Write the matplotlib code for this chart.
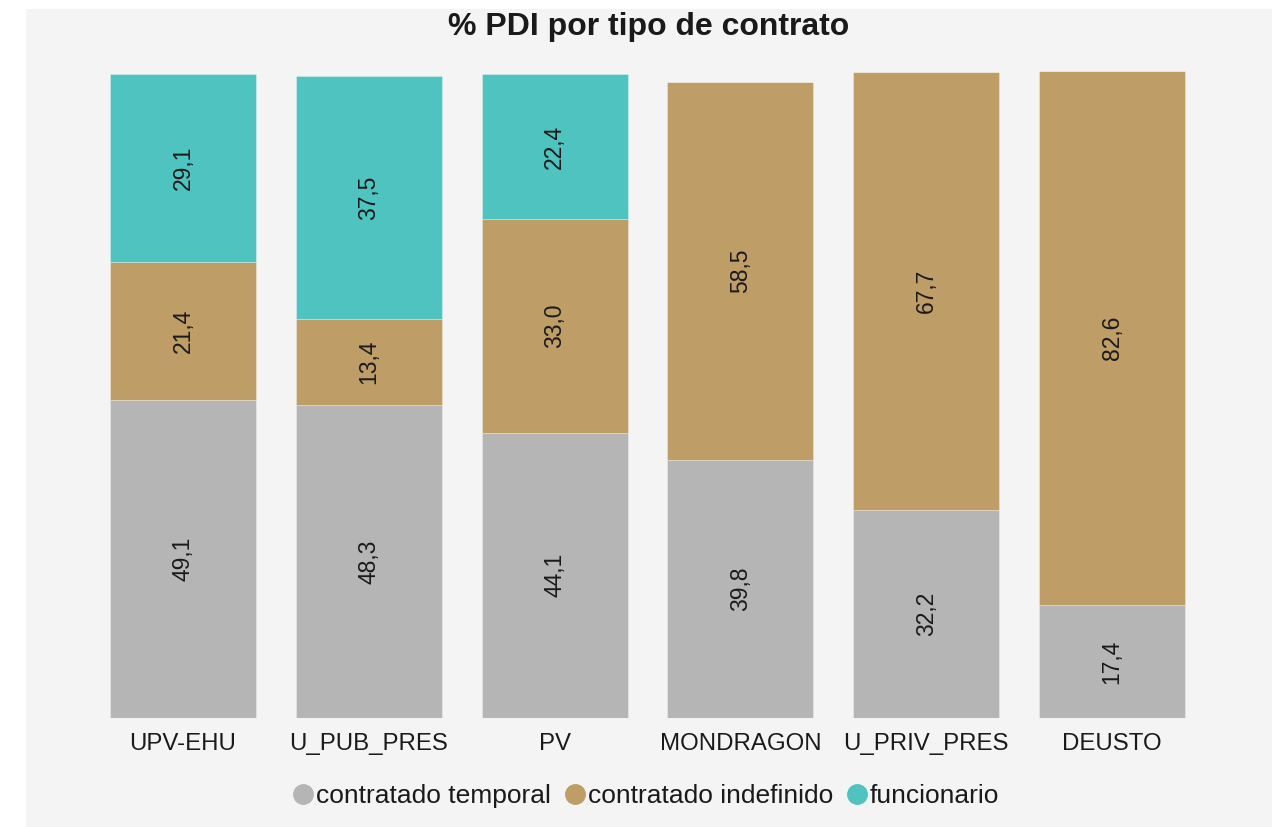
import numpy as np
import matplotlib.pyplot as plt
from matplotlib.lines import Line2D
from matplotlib.patches import Rectangle

plt.rcParams["font.family"] = ["Liberation Sans", "DejaVu Sans"]

# data
universidades = ["UPV-EHU", "U_PUB_PRES", "PV", "MONDRAGON", "U_PRIV_PRES", "DEUSTO"]
temporal = [49.1, 48.3, 44.1, 39.8, 32.2, 17.4]
indefinido = [21.4, 13.4, 33.0, 58.5, 67.7, 82.6]
funcionario = [29.1, 37.5, 22.4, 0.0, 0.0, 0.0]

series_names = ["contratado temporal", "contratado indefinido", "funcionario"]
colors = ["#b5b5b5", "#be9d66", "#4fc3bf"]

fig = plt.figure(figsize=(12.72, 8.27), dpi=100)
fig.patch.set_facecolor("white")
# light grey panel behind the chart
fig.add_artist(Rectangle((26 / 1272, 0), 1, 1 - 9 / 827, transform=fig.transFigure,
                         facecolor="#f4f4f4", edgecolor="none", zorder=-10))

ax = fig.add_axes([90 / 1272, 1 - 718 / 827, (1205 - 90) / 1272, (718 - 71) / 827])
ax.set_facecolor("none")

x = np.arange(len(universidades))
bottom = np.zeros(len(universidades))
for vals, col in zip([temporal, indefinido, funcionario], colors):
    vals = np.array(vals)
    ax.bar(x, vals, width=0.785, bottom=bottom, color=col,
           edgecolor=(1, 1, 1, 0.35), linewidth=0.6)
    for xi, b, v in zip(x, bottom, vals):
        if v > 0:
            ax.text(xi, b + v / 2, f"{v:.1f}".replace(".", ","), rotation=90,
                    ha="center", va="center", fontsize=16.5, color="#1a1a1a")
    bottom += vals

ax.set_xlim(-0.5, 5.5)
ax.set_ylim(0, 100)
ax.set_yticks([])
ax.set_xticks(x)
ax.set_xticklabels(universidades, fontsize=17.3, color="#1a1a1a")
ax.tick_params(axis="x", length=0, pad=11)
for s in ax.spines.values():
    s.set_visible(False)

fig.text(649 / 1272, 1 - 27 / 827, "% PDI por tipo de contrato", ha="center",
         va="center", fontsize=23, fontweight="bold", color="#1a1a1a")

handles = [Line2D([], [], marker="o", linestyle="none", markersize=14,
                  markerfacecolor=c, markeredgecolor=c) for c in colors]
fig.legend(handles, series_names, loc="center", bbox_to_anchor=(645 / 1272, 1 - 796 / 827),
           ncol=3, frameon=False, fontsize=19, handletextpad=0.0, columnspacing=0.45,
           handlelength=0.95, labelcolor="#1a1a1a")

fig.savefig("out.png", dpi=100, facecolor=fig.get_facecolor())
